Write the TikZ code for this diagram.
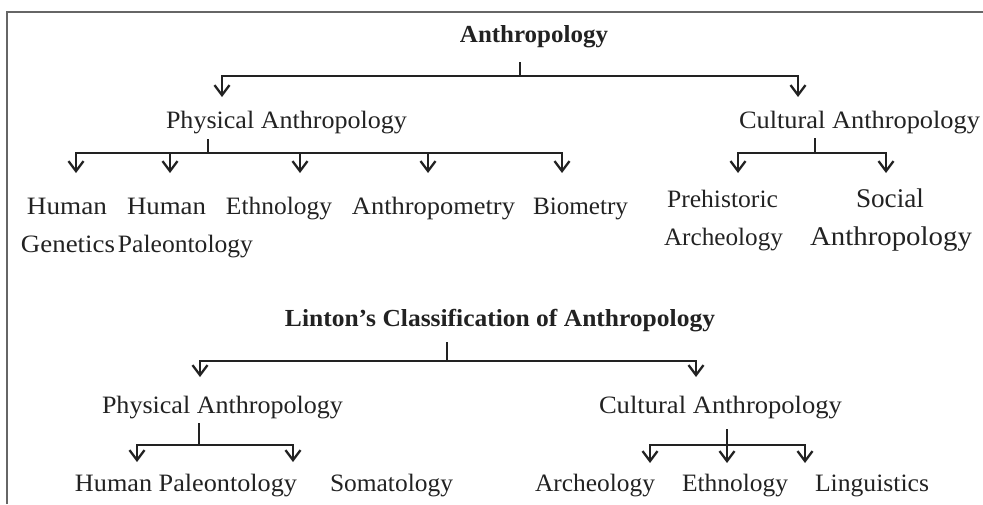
\documentclass[tikz,border=0pt]{standalone}
\usepackage{fontspec}
\setmainfont{Liberation Serif}
\usepackage{graphicx}
\usetikzlibrary{arrows.meta}
\newcommand\fitw[2]{\resizebox{#1}{\height}{#2}}
\definecolor{ink}{HTML}{222222}
\definecolor{framecol}{HTML}{666666}
\begin{document}
\begin{tikzpicture}[x=1pt,y=-1pt,
  txt/.style={inner sep=0pt, anchor=base, text=ink, font=\fontsize{25}{29}\selectfont},
  ttl/.style={txt, font=\fontsize{24.5}{29}\selectfont\bfseries},
  big/.style={txt, font=\fontsize{27}{31}\selectfont},
  ln/.style={draw=ink, line width=2.3pt},
  ar/.style={ln, -{Straight Barb[length=10pt,width=15pt]}},
  framestyle/.style={draw=framecol, line width=1.6pt}]
\useasboundingbox (0,0) rectangle (983,504);
\draw[framestyle] (7,504) -- (7,12) -- (983,12);

% upper tree
\node[ttl] (anth) at (534,42) {\fitw{148pt}{Anthropology}};
\node[txt] (pa1) at (286.5,128) {\fitw{241pt}{Physical Anthropology}};
\node[txt] (ca1) at (859.5,128) {\fitw{241pt}{Cultural Anthropology}};
\node[txt] (hg1) at (67,214) {\fitw{80pt}{Human}};
\node[txt] (hg2) at (68,252) {\fitw{94pt}{Genetics}};
\node[txt] (hp1) at (166.5,214) {\fitw{79pt}{Human}};
\node[txt] (hp2) at (185.5,252) {\fitw{135pt}{Paleontology}};
\node[txt] (eth) at (279,214) {\fitw{106pt}{Ethnology}};
\node[txt] (apm) at (433.5,214) {\fitw{163pt}{Anthropometry}};
\node[txt] (bio) at (580.5,214) {\fitw{95pt}{Biometry}};
\node[txt] (pre1) at (722.5,207) {\fitw{111pt}{Prehistoric}};
\node[txt] (pre2) at (723.5,245) {\fitw{119pt}{Archeology}};
\node[big] (soc1) at (890,207) {\fitw{68pt}{Social}};
\node[big] (soc2) at (891,245) {\fitw{162pt}{Anthropology}};

\coordinate (a0) at (520,62);  \coordinate (a1) at (520,76);
\coordinate (ta1) at (222,97); \coordinate (ta2) at (798,97);
\draw[ln] (a0) -- (a1);
\draw[ar] (a1) -| (ta1);
\draw[ar] (a1) -| (ta2);

\coordinate (b0) at (208,139); \coordinate (b1) at (208,153);
\coordinate (tb1) at (76,173);  \coordinate (tb2) at (170,173);
\coordinate (tb3) at (300,173); \coordinate (tb4) at (428,173);
\coordinate (tb5) at (562,173);
\draw[ln] (b0) -- (b1);
\foreach \t in {tb1,tb2,tb3,tb4,tb5} \draw[ar] (b1) -| (\t);

\coordinate (c0) at (815,138); \coordinate (c1) at (815,153);
\coordinate (tc1) at (738,173); \coordinate (tc2) at (886,173);
\draw[ln] (c0) -- (c1);
\draw[ar] (c1) -| (tc1);
\draw[ar] (c1) -| (tc2);

% lower tree
\node[ttl] (lin) at (500,326) {\fitw{430pt}{Linton’s Classification of Anthropology}};
\node[txt] (pa2) at (222.5,413) {\fitw{241pt}{Physical Anthropology}};
\node[txt] (ca2) at (720.5,413) {\fitw{243pt}{Cultural Anthropology}};
\node[txt] (hpl) at (186,491) {\fitw{222pt}{Human Paleontology}};
\node[txt] (som) at (391.5,491) {\fitw{123pt}{Somatology}};
\node[txt] (arc) at (595,491) {\fitw{120pt}{Archeology}};
\node[txt] (eth2) at (735,491) {\fitw{106pt}{Ethnology}};
\node[txt] (lng) at (872,491) {\fitw{114pt}{Linguistics}};

\coordinate (d0) at (447,342); \coordinate (d1) at (447,361);
\coordinate (td1) at (200,377); \coordinate (td2) at (696,377);
\draw[ln] (d0) -- (d1);
\draw[ar] (d1) -| (td1);
\draw[ar] (d1) -| (td2);

\coordinate (e0) at (199,423); \coordinate (e1) at (199,445);
\coordinate (te1) at (137,462); \coordinate (te2) at (293,462);
\draw[ln] (e0) -- (e1);
\draw[ar] (e1) -| (te1);
\draw[ar] (e1) -| (te2);

\coordinate (f0) at (727,429); \coordinate (f1) at (727,445);
\coordinate (tf1) at (650,463); \coordinate (tf2) at (727,463);
\coordinate (tf3) at (805,463);
\draw[ar] (f0) -- (tf2);
\draw[ar] (f1) -| (tf1);
\draw[ar] (f1) -| (tf3);
\end{tikzpicture}
\end{document}
